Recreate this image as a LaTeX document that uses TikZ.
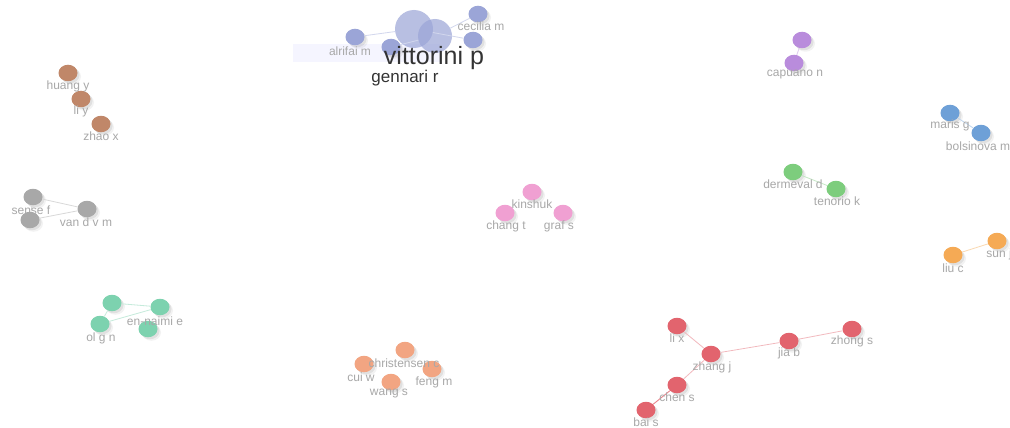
\documentclass[tikz,border=0pt]{standalone}
\usepackage{fontspec}
\setmainfont{Liberation Sans}
\usetikzlibrary{shapes.geometric}
\definecolor{clav}{RGB}{155,165,215}
\definecolor{cbrown}{RGB}{192,135,105}
\definecolor{cgrey}{RGB}{168,168,168}
\definecolor{cteal}{RGB}{125,210,175}
\definecolor{csalmon}{RGB}{242,165,130}
\definecolor{cpink}{RGB}{240,160,210}
\definecolor{cred}{RGB}{226,100,110}
\definecolor{cpurple}{RGB}{185,140,220}
\definecolor{cgreen}{RGB}{125,205,125}
\definecolor{cblue}{RGB}{110,160,215}
\definecolor{corange}{RGB}{245,170,85}
\definecolor{ctext}{RGB}{168,168,168}
\tikzset{
  shad/.style={preaction={fill=black, fill opacity=0.07, transform canvas={xshift=2pt,yshift=-2pt}},
               preaction={fill=black, fill opacity=0.05, transform canvas={xshift=3.5pt,yshift=-3.5pt}}},
  bub/.style={ellipse, minimum width=19pt, minimum height=16.5pt, inner sep=0pt, fill=#1, draw=none, shad},
  bigbub/.style={circle, minimum size=#1, inner sep=0pt, fill=clav, fill opacity=0.7, draw=none},
  lbl/.style={text=ctext, font=\fontsize{12}{14}\selectfont, inner sep=0pt},
  edge/.style={draw=#1!45, line width=0.8pt},
}
\begin{document}
\begin{tikzpicture}[x=1pt,y=-1pt]
\useasboundingbox (0,0) rectangle (1010,428);
\fill[white] (0,0) rectangle (1010,428);

% ---------- top cluster ----------
\fill[blue!4] (293,44) rectangle (440,62);
\node[bub=clav] (alr) at (355,37) {};
\node[bub=clav] (mid) at (391,47) {};
\node[bub=clav] (cec) at (478,14) {};
\node[bub=clav] (rgt) at (473,40) {};
\node[bigbub=38pt] (vit) at (414,29) {};
\node[bigbub=34pt] (gen) at (435,36) {};
\draw[edge=clav] (alr) -- (vit);
\draw[edge=clav] (vit) -- (rgt);
\draw[edge=clav] (gen) -- (cec);
\draw[edge=clav] (mid) -- (gen);
\node[lbl] (lcec) at (481,26) {cecilia m};
\node[lbl] (lalr) at (350,51) {alrifai m};
\node[inner sep=0pt, text=black!80, font=\fontsize{25}{28}\selectfont] (lvit) at (434,58) {vittorini p};
\node[inner sep=0pt, text=black!80, font=\fontsize{17}{19}\selectfont] (lgen) at (405,78) {gennari r};

% ---------- brown cluster ----------
\node[bub=cbrown] (hy) at (68,73) {};
\node[bub=cbrown] (ly) at (81,99) {};
\node[bub=cbrown] (zx) at (101,124) {};
\node[lbl] (lhy) at (68,86) {huang y};
\node[lbl] (lly) at (81,111) {li y};
\node[lbl] (lzx) at (101,136) {zhao x};

% ---------- grey cluster ----------
\node[bub=cgrey] (sf) at (33,197) {};
\node[bub=cgrey] (vd) at (87,209) {};
\node[bub=cgrey] (g3) at (30,220) {};
\draw[edge=cgrey] (sf) -- (vd);
\draw[edge=cgrey] (g3) -- (vd);
\draw[edge=cgrey] (sf) -- (g3);
\node[lbl] (lsf) at (31,210) {sense f};
\node[lbl] (lvd) at (86,222) {van d v m};

% ---------- teal cluster ----------
\node[bub=cteal] (t1) at (112,303) {};
\node[bub=cteal] (en) at (160,307) {};
\node[bub=cteal] (ol) at (100,324) {};
\node[bub=cteal] (t4) at (148,329) {};
\draw[edge=cteal] (t1) -- (en);
\draw[edge=cteal] (t1) -- (ol);
\draw[edge=cteal] (ol) -- (en);
\node[lbl] (len) at (155,321) {en-naimi e};
\node[lbl] (lol) at (101,338) {ol g n};

% ---------- salmon cluster ----------
\node[bub=csalmon] (cc) at (405,350) {};
\node[bub=csalmon] (cw) at (364,364) {};
\node[bub=csalmon] (fm) at (432,369) {};
\node[bub=csalmon] (ws) at (391,382) {};
\node[lbl] (lcc) at (404,363) {christensen c};
\node[lbl] (lcw) at (361,377) {cui w};
\node[lbl] (lfm) at (434,382) {feng m};
\node[lbl] (lws) at (389,394) {wang s};

% ---------- pink cluster ----------
\node[bub=cpink] (ki) at (532,192) {};
\node[bub=cpink] (ct) at (505,213) {};
\node[bub=cpink] (gs) at (563,213) {};
\node[lbl] (lki) at (532,204) {kinshuk};
\node[lbl] (lct) at (506,226) {chang t};
\node[lbl] (lgs) at (559,226) {graf s};

% ---------- red cluster ----------
\node[bub=cred] (lx) at (677,326) {};
\node[bub=cred] (zj) at (711,354) {};
\node[bub=cred] (jb) at (789,341) {};
\node[bub=cred] (zs) at (852,329) {};
\node[bub=cred] (cs) at (677,385) {};
\node[bub=cred] (bs) at (646,410) {};
\draw[edge=cred] (lx) -- (zj);
\draw[edge=cred] (zj) -- (jb);
\draw[edge=cred] (jb) -- (zs);
\draw[edge=cred] (zj) -- (cs);
\draw[draw=cred!80, line width=0.9pt] (cs) -- (bs);
\node[lbl] (llx) at (677,338) {li x};
\node[lbl] (lzj) at (712,367) {zhang j};
\node[lbl] (ljb) at (789,353) {jia b};
\node[lbl] (lzs) at (852,341) {zhong s};
\node[lbl] (lcs) at (677,397) {chen s};
\node[lbl] (lbs) at (646,422) {bai s};

% ---------- purple ----------
\node[bub=cpurple] (p1) at (802,40) {};
\node[bub=cpurple] (cn) at (794,63) {};
\draw[edge=cpurple] (p1) -- (cn);
\node[lbl] (lcn) at (795,75) {capuano n};

% ---------- green ----------
\node[bub=cgreen] (dd) at (793,172) {};
\node[bub=cgreen] (tk) at (836,189) {};
\draw[edge=cgreen] (dd) -- (tk);
\node[lbl] (ldd) at (793,184) {dermeval d};
\node[lbl] (ltk) at (837,201) {tenorio k};

% ---------- blue ----------
\node[bub=cblue] (mg) at (950,113) {};
\node[bub=cblue] (bm) at (981,133) {};
\draw[edge=cblue] (mg) -- (bm);
\node[lbl] (lmg) at (950,125) {maris g};
\node[lbl] (lbm) at (978,146) {bolsinova m};

% ---------- orange ----------
\node[bub=corange] (lc) at (953,255) {};
\node[bub=corange] (sj) at (997,241) {};
\draw[edge=corange] (lc) -- (sj);
\node[lbl] (llc) at (953,268) {liu c};
\node[lbl] (lsj) at (999,254) {sun j};
\end{tikzpicture}
\end{document}
